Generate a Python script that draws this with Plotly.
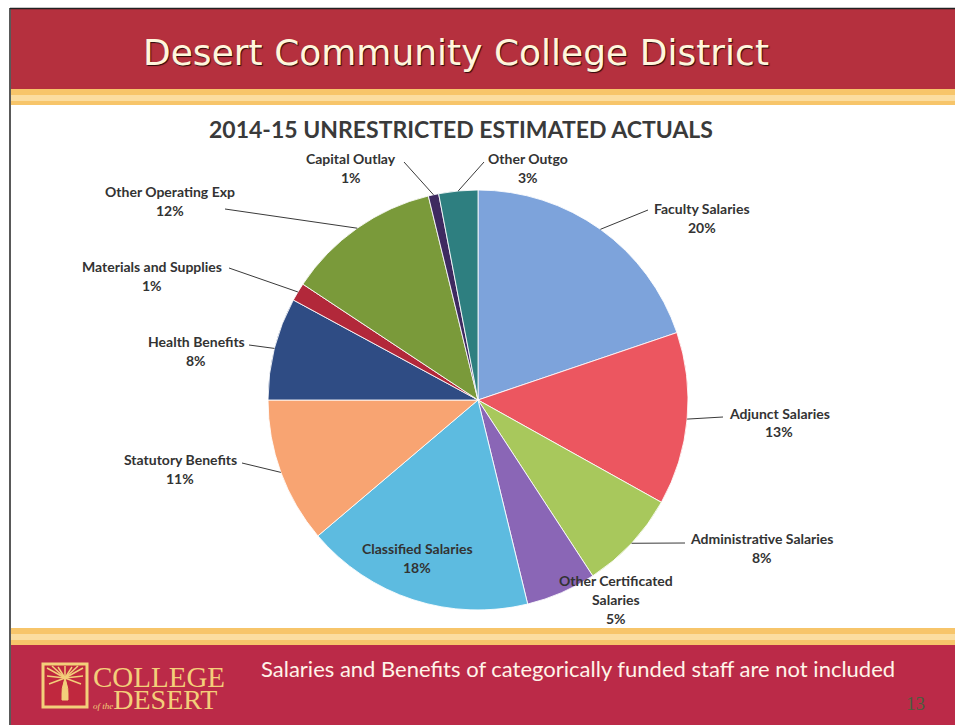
import math
import plotly.graph_objects as go

W, H = 955, 725

# ---------------- data ----------------
categories = ["Faculty Salaries", "Adjunct Salaries", "Administrative Salaries",
              "Other Certificated Salaries", "Classified Salaries", "Statutory Benefits",
              "Health Benefits", "Materials and Supplies", "Other Operating Exp",
              "Capital Outlay", "Other Outgo"]
values = [19.8, 13.3, 7.7, 5.4, 17.6, 11.2, 7.9, 1.4, 11.9, 0.8, 3.0]
colors = ["#7DA3DB", "#EC5660", "#A8C85C", "#8A66B6", "#5DBBE0", "#F8A472",
          "#2F4C84", "#B2283A", "#7A9A3A", "#3E2A60", "#2E7F80"]

chart_title = "2014-15 UNRESTRICTED ESTIMATED ACTUALS"
slide_title = "Desert Community College District"
footer_text = "Salaries and Benefits of categorically funded staff are not included"
page_number = "13"

# label layout: name lines, centre x, first line y, leader-line start (px)
label_lines = {
    "Faculty Salaries": (["Faculty Salaries"], 702, 208, (648, 210)),
    "Adjunct Salaries": (["Adjunct Salaries"], 779, 413, (723, 417)),
    "Administrative Salaries": (["Administrative Salaries"], 762, 538, (685, 543)),
    "Other Certificated Salaries": (["Other Certificated", "Salaries"], 616, 580, None),
    "Classified Salaries": (["Classified Salaries"], 417, 548, None),
    "Statutory Benefits": (["Statutory Benefits"], 180, 459, (242, 463)),
    "Health Benefits": (["Health Benefits"], 196, 342, (249, 345)),
    "Materials and Supplies": (["Materials and Supplies"], 152, 267, (229, 268)),
    "Other Operating Exp": (["Other Operating Exp"], 170, 191, (225, 209)),
    "Capital Outlay": (["Capital Outlay"], 351, 158, (404, 162)),
    "Other Outgo": (["Other Outgo"], 528, 158, (484, 162)),
}
LINE_GAP = 19

# pie geometry (pixels)
CX, CY, R = 478, 400, 210


def px(x):
    return x / W


def py(y):
    return 1 - y / H


fig = go.Figure()
fig.add_trace(go.Pie(
    labels=categories, values=values, sort=False, direction="clockwise",
    rotation=0, textinfo="none", hoverinfo="label+percent",
    marker=dict(colors=colors, line=dict(color="rgba(255,255,255,0.85)", width=1)),
    domain=dict(x=[px(CX - R), px(CX + R)], y=[py(CY + R), py(CY - R)]),
    showlegend=False,
))

shapes = []
annotations = []

# ---------- slide background ----------
HEAD_RED = "#B5303E"
FOOT_RED = "#BB2A48"
GOLD = "#F7C56A"
GOLD_L = "#FBDDA0"


def rect(x0, y0, x1, y1, fill, line=None, lw=0, layer="below"):
    shapes.append(dict(type="rect", xref="paper", yref="paper",
                       x0=px(x0), x1=px(x1), y0=py(y1), y1=py(y0),
                       fillcolor=fill, line=dict(width=lw, color=line or fill),
                       layer=layer))


rect(11, 9, W, 89, HEAD_RED)
rect(11, 89, W, 105, GOLD)
rect(11, 95, W, 101, GOLD_L)
rect(11, 628, W, 645, GOLD)
rect(11, 634, W, 640, GOLD_L)
rect(11, 645, W, H, FOOT_RED)
# slide border (top / left)
shapes.append(dict(type="line", xref="paper", yref="paper", x0=px(10), x1=px(W),
                   y0=py(8.5), y1=py(8.5), line=dict(color="#222", width=1.5)))
shapes.append(dict(type="line", xref="paper", yref="paper", x0=px(10), x1=px(10),
                   y0=py(8), y1=py(H), line=dict(color="#222", width=1.5)))

# ---------- logo ----------
LOGO_GOLD = "#F3CF7A"
rect(43, 664, 87, 707, "#C0283E", line=LOGO_GOLD, lw=3, layer="above")
cxl, cyl = 65, 678
shapes.append(dict(type="path", xref="paper", yref="paper",
                   path=f"M {px(62)} {py(700)} Q {px(61)} {py(688)} {px(cxl)} {py(cyl)} "
                        f"Q {px(69)} {py(688)} {px(68)} {py(700)} Z",
                   fillcolor=LOGO_GOLD, line=dict(color=LOGO_GOLD, width=1), layer="above"))
for (fx, fy) in [(47, 668), (52, 666), (58, 667), (65, 666), (72, 667), (78, 666),
                 (83, 668), (47, 676), (83, 676), (49, 684), (81, 684)]:
    shapes.append(dict(type="line", xref="paper", yref="paper",
                       x0=px(cxl), y0=py(cyl), x1=px(fx), y1=py(fy),
                       line=dict(color=LOGO_GOLD, width=1.5), layer="above"))

annotations.append(dict(text="COLLEGE", x=px(92), y=py(677), xref="paper", yref="paper",
                        showarrow=False, xanchor="left", yanchor="middle", borderpad=0,
                        font=dict(family="Liberation Serif", size=29, color=LOGO_GOLD)))
annotations.append(dict(text="<i><span style='font-size:9px'>of the</span></i>DESERT",
                        x=px(92), y=py(699), xref="paper", yref="paper",
                        showarrow=False, xanchor="left", yanchor="middle", borderpad=0,
                        font=dict(family="Liberation Serif", size=28, color=LOGO_GOLD)))

# ---------- titles ----------
annotations.append(dict(text=slide_title, x=px(456), y=py(52), xref="paper", yref="paper",
                        showarrow=False, xanchor="center", yanchor="middle",
                        font=dict(family="DejaVu Sans", size=36, color="#FFF6DC",
                                  shadow="1px 1px 1px #2a0a0a")))
annotations.append(dict(text=f"<b>{chart_title}</b>", x=px(461), y=py(129), xref="paper",
                        yref="paper", showarrow=False, xanchor="center", yanchor="middle",
                        font=dict(family="Lato", size=23, color="#3A3A3A")))
annotations.append(dict(text=footer_text, x=px(578), y=py(668), xref="paper", yref="paper",
                        showarrow=False, xanchor="center", yanchor="middle",
                        font=dict(family="Lato", size=22, color="#FFF4E8")))
annotations.append(dict(text=page_number, x=px(915), y=py(703), xref="paper", yref="paper",
                        showarrow=False, xanchor="center", yanchor="middle",
                        font=dict(family="Liberation Serif", size=19, color="#4A5E3E")))

# ---------- data labels & leader lines ----------
total = sum(values)
cum = 0.0
for cat, v in zip(categories, values):
    mid = (cum + v / 2) / total
    cum += v
    theta = 2 * math.pi * mid
    ex = CX + R * math.sin(theta)
    ey = CY - R * math.cos(theta)
    lines, lx, ly, start = label_lines[cat]
    pct = f"{round(v / total * 100):d}%"
    all_lines = lines + [pct]
    for i, t in enumerate(all_lines):
        annotations.append(dict(text=f"<b>{t}</b>", x=px(lx), y=py(ly + i * LINE_GAP),
                                xref="paper", yref="paper", showarrow=False,
                                xanchor="center", yanchor="middle",
                                font=dict(family="Lato", size=14, color="#333333")))
    if start is not None:
        shapes.append(dict(type="line", xref="paper", yref="paper",
                           x0=px(start[0]), y0=py(start[1]), x1=px(ex), y1=py(ey),
                           line=dict(color="#3A3A3A", width=1), layer="above"))

fig.update_layout(width=W, height=H, margin=dict(l=0, r=0, t=0, b=0),
                  paper_bgcolor="white", plot_bgcolor="white",
                  shapes=shapes, annotations=annotations, showlegend=False)

fig.write_html("out.html")
